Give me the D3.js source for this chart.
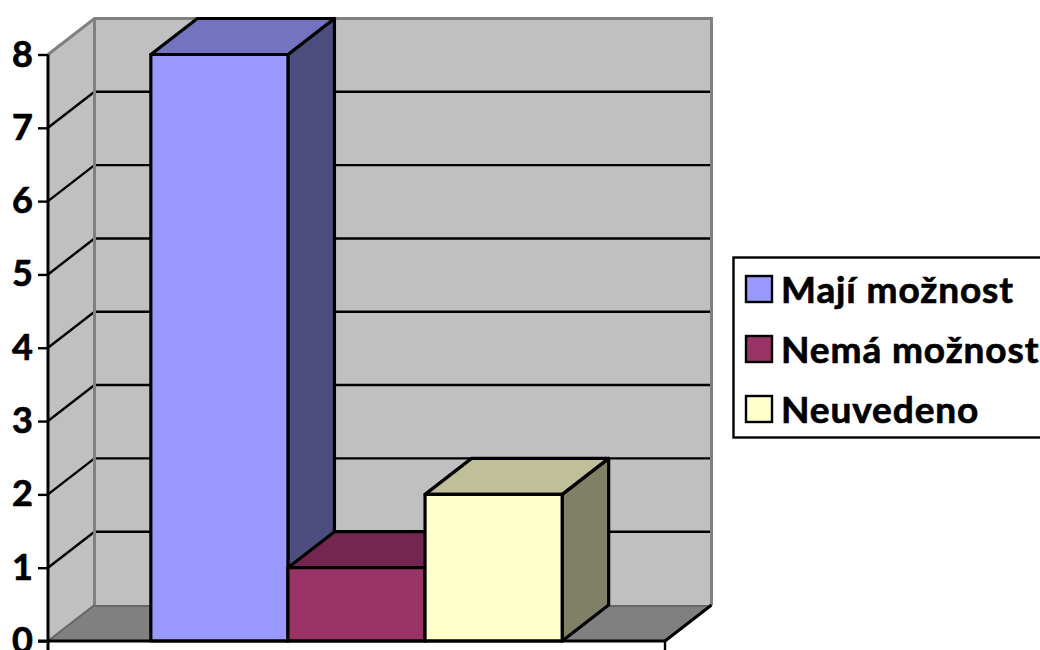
<!DOCTYPE html>
<html lang="cs">
<head>
<meta charset="utf-8">
<script src="https://cdn.jsdelivr.net/npm/d3@7"></script>
<style>
  html, body { margin: 0; padding: 0; background: #fff; overflow: hidden; }
  svg { display: block; font-family: Lato, "Open Sans", sans-serif; font-weight: 700; }
</style>
</head>
<body>
<svg id="chart" width="1040" height="650"></svg>
<script>
const categories = ["Mají možnost", "Nemá možnost", "Neuvedeno"];
const values = [8, 1, 2];
const tickValues = [0, 1, 2, 3, 4, 5, 6, 7, 8];
const frontColors = ["#9999ff", "#993366", "#ffffcc"];
const topColors = ["#7373bf", "#732650", "#bfbf99"];
const sideColors = ["#4d4d80", "#4d1a33", "#808066"];

const svg = d3.select("#chart");

// Front plane of the box and the oblique offset to its back plane
const plotLeft = 48, plotRight = 665, plotBottom = 641, plotTop = 54.5;
const depthX = 46.5, depthY = -36;

const y = d3.scaleLinear().domain([0, 8]).range([plotBottom, plotTop]);
const x = d3.scaleBand().domain(categories)
  .range([plotLeft, plotRight]).paddingInner(0).paddingOuter(0.75);

const poly = pts => pts.map(p => p.join(",")).join(" ");

// Walls and floor
const walls = svg.append("g");
walls.append("polygon")
  .attr("points", poly([[plotLeft, plotTop], [plotLeft + depthX, plotTop + depthY], [plotLeft + depthX, plotBottom + depthY], [plotLeft, plotBottom]]))
  .attr("fill", "#c0c0c0");
walls.append("rect")
  .attr("x", plotLeft + depthX).attr("y", plotTop + depthY)
  .attr("width", plotRight - plotLeft).attr("height", plotBottom - plotTop)
  .attr("fill", "#c0c0c0");
walls.append("polygon")
  .attr("points", poly([[plotLeft, plotBottom], [plotRight, plotBottom], [plotRight + depthX, plotBottom + depthY], [plotLeft + depthX, plotBottom + depthY]]))
  .attr("fill", "#808080");

// Gridlines run along the side wall and across the back wall
const grid = svg.append("g").attr("fill", "none").attr("stroke", "#000").attr("stroke-width", 2.4);
grid.selectAll("polyline")
  .data(tickValues.slice(1, -1))
  .join("polyline")
  .attr("points", d => poly([[plotLeft, y(d)], [plotLeft + depthX, y(d) + depthY], [plotRight + depthX, y(d) + depthY]]));

// Wall outlines
const edges = svg.append("g").attr("fill", "none").attr("stroke", "#808080").attr("stroke-width", 3);
edges.append("polyline")
  .attr("points", poly([[plotLeft, plotTop], [plotLeft + depthX, plotTop + depthY], [plotRight + depthX, plotTop + depthY], [plotRight + depthX, plotBottom + depthY]]));
edges.append("line")
  .attr("x1", plotLeft + depthX).attr("x2", plotLeft + depthX)
  .attr("y1", plotTop + depthY).attr("y2", plotBottom + depthY);
edges.append("line")
  .attr("x1", plotLeft + depthX).attr("x2", plotRight + depthX)
  .attr("y1", plotBottom + depthY + 1).attr("y2", plotBottom + depthY + 1)
  .attr("stroke", "#666666").attr("stroke-width", 2);
edges.append("line")
  .attr("x1", plotLeft).attr("x2", plotLeft + depthX)
  .attr("y1", plotBottom).attr("y2", plotBottom + depthY)
  .attr("stroke", "#666666").attr("stroke-width", 2);
svg.append("line")
  .attr("x1", plotRight).attr("x2", plotRight + depthX)
  .attr("y1", plotBottom).attr("y2", plotBottom + depthY)
  .attr("stroke", "#000").attr("stroke-width", 3);

// Bars: side and top faces first, then the front face
const bars = svg.append("g").attr("stroke", "#000").attr("stroke-width", 3.2).attr("stroke-linejoin", "round");
const bar = bars.selectAll("g")
  .data(categories.map((name, i) => ({ name, value: values[i], i })))
  .join("g");
bar.append("polygon")
  .attr("fill", d => sideColors[d.i])
  .attr("points", d => {
    const x1 = x(d.name) + x.bandwidth();
    return poly([[x1, y(d.value)], [x1 + depthX, y(d.value) + depthY], [x1 + depthX, plotBottom + depthY], [x1, plotBottom]]);
  });
bar.append("polygon")
  .attr("fill", d => topColors[d.i])
  .attr("points", d => {
    const x0 = x(d.name), x1 = x0 + x.bandwidth();
    return poly([[x0, y(d.value)], [x0 + depthX, y(d.value) + depthY], [x1 + depthX, y(d.value) + depthY], [x1, y(d.value)]]);
  });
bar.append("rect")
  .attr("fill", d => frontColors[d.i])
  .attr("x", d => x(d.name))
  .attr("y", d => y(d.value))
  .attr("width", x.bandwidth())
  .attr("height", d => plotBottom - y(d.value));

// Value axis
const axis = svg.append("g")
  .attr("transform", `translate(${plotLeft},0)`)
  .call(d3.axisLeft(y).tickValues(tickValues).tickFormat(d3.format("d")).tickSize(10).tickPadding(5));
axis.selectAll("line").attr("stroke", "#000").attr("stroke-width", 2.4);
axis.select(".domain").remove();
axis.selectAll("text")
  .attr("fill", "#000")
  .attr("stroke", "#000")
  .attr("stroke-width", 0.7)
  .attr("font-size", 36)
  .attr("font-family", "Lato, sans-serif")
  .attr("font-weight", 700);
axis.append("line")
  .attr("x1", 0).attr("x2", 0).attr("y1", plotTop).attr("y2", 650)
  .attr("stroke", "#000").attr("stroke-width", 3);

// Category axis along the front of the floor
const base = svg.append("g").attr("stroke", "#000");
base.append("line")
  .attr("x1", plotLeft - 10).attr("x2", plotRight)
  .attr("y1", plotBottom).attr("y2", plotBottom)
  .attr("stroke-width", 3.2);
base.append("line")
  .attr("x1", plotRight).attr("x2", plotRight)
  .attr("y1", plotBottom).attr("y2", 650)
  .attr("stroke-width", 2.4);

// Legend, running off the right-hand edge
const legend = svg.append("g");
legend.append("rect")
  .attr("x", 733.5).attr("y", 257.5)
  .attr("width", 340).attr("height", 180)
  .attr("fill", "#fff").attr("stroke", "#000").attr("stroke-width", 2.4);
const rowY = d3.scalePoint().domain(categories).range([289, 409]);
const row = legend.selectAll("g")
  .data(categories.map((name, i) => ({ name, i })))
  .join("g")
  .attr("transform", d => `translate(0,${rowY(d.name)})`);
row.append("rect")
  .attr("x", 746).attr("y", -13)
  .attr("width", 26).attr("height", 26)
  .attr("fill", d => frontColors[d.i])
  .attr("stroke", "#000").attr("stroke-width", 2.4);
row.append("text")
  .attr("x", 781).attr("y", 14)
  .attr("font-size", 37)
  .attr("letter-spacing", 0.9)
  .attr("fill", "#000")
  .attr("stroke", "#000")
  .attr("stroke-width", 0.7)
  .text(d => d.name);
</script>
</body>
</html>
